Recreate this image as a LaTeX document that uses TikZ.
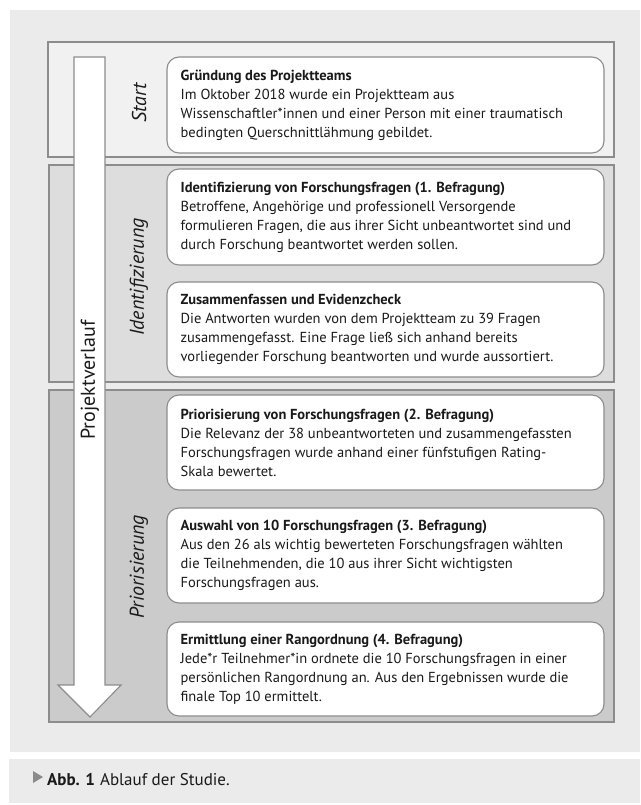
\documentclass[tikz,border=0pt]{standalone}
\usepackage{fontspec}
\setmainfont{PT Sans}
\definecolor{bggray}{HTML}{EBEBEB}
\definecolor{linegray}{HTML}{8C8C8C}
\definecolor{startfill}{HTML}{F1F1F1}
\definecolor{identfill}{HTML}{DDDDDD}
\definecolor{priofill}{HTML}{CBCBCB}
\definecolor{trigray}{HTML}{8A8A8A}
\definecolor{textcol}{HTML}{1A1A1A}
\begin{document}
\begin{tikzpicture}[x=1pt,y=-1pt,
  panel/.style={draw=linegray,line width=1.1pt},
  stepbox/.style={draw=linegray,line width=1.1pt,fill=white,rounded corners=12pt,minimum width=437pt,inner sep=0pt},
  steptext/.style={anchor=west,align=left,inner sep=0pt,text=textcol,font=\fontsize{14.5}{19}\selectfont},
  stagelabel/.style={rotate=90,inner sep=0pt,text=textcol,font=\fontsize{20}{24}\selectfont\itshape},
  arrowshape/.style={draw=linegray,line width=1.1pt,fill=white},
]
\useasboundingbox (0,0) rectangle (640,805);
\fill[white] (0,0) rectangle (640,805);
\fill[bggray] (10,10) rectangle (640,752);
\fill[bggray] (9,759) rectangle (640,803);

% phase panels
\draw[panel,fill=startfill] (48,42) rectangle (614,157);
\draw[panel,fill=identfill] (49,165) rectangle (614,382);
\draw[panel,fill=priofill] (49,390) rectangle (614,722);

% big arrow
\draw[arrowshape] (74,57) -- (105,57) -- (105,685) -- (121,685) -- (90,717) -- (58,685) -- (74,685) -- cycle;
\node[rotate=90,inner sep=0pt,text=textcol,font=\fontsize{20}{24}\selectfont] (verlauf) at (90,380) {Projektverlauf};

% stage labels
\node[stagelabel] (lstart) at (139,103) {Start};
\node[stagelabel] (lident) at (139,277) {Identifizierung};
\node[stagelabel] (lprio) at (139,567) {Priorisierung};

% boxes
\node[stepbox,minimum height=96pt] (b1) at (385.5,105) {};
\node[stepbox,minimum height=96pt] (b2) at (385.5,217) {};
\node[stepbox,minimum height=95pt] (b3) at (385.5,329.5) {};
\node[stepbox,minimum height=95pt] (b4) at (385.5,442.5) {};
\node[stepbox,minimum height=95pt] (b5) at (385.5,555.5) {};
\node[stepbox,minimum height=94pt] (b6) at (385.5,669) {};

\node[steptext] (t1) at ([xshift=14pt]b1.west) {\textbf{Gründung des Projektteams}\\
Im Oktober 2018 wurde ein Projektteam aus\\
Wissenschaftler*innen und einer Person mit einer traumatisch\\
bedingten Querschnittlähmung gebildet.};
\node[steptext] (t2) at ([xshift=14pt]b2.west) {\textbf{Identifizierung von Forschungsfragen (1. Befragung)}\\
Betroffene, Angehörige und professionell Versorgende\\
formulieren Fragen, die aus ihrer Sicht unbeantwortet sind und\\
durch Forschung beantwortet werden sollen.};
\node[steptext] (t3) at ([xshift=14pt]b3.west) {\textbf{Zusammenfassen und Evidenzcheck}\\
Die Antworten wurden von dem Projektteam zu 39 Fragen\\
zusammengefasst. Eine Frage ließ sich anhand bereits\\
vorliegender Forschung beantworten und wurde aussortiert.};
\node[steptext] (t4) at ([xshift=14pt]b4.west) {\textbf{Priorisierung von Forschungsfragen (2. Befragung)}\\
Die Relevanz der 38 unbeantworteten und zusammengefassten\\
Forschungsfragen wurde anhand einer fünfstufigen Rating-\\
Skala bewertet.};
\node[steptext] (t5) at ([xshift=14pt]b5.west) {\textbf{Auswahl von 10 Forschungsfragen (3. Befragung)}\\
Aus den 26 als wichtig bewerteten Forschungsfragen wählten\\
die Teilnehmenden, die 10 aus ihrer Sicht wichtigsten\\
Forschungsfragen aus.};
\node[steptext] (t6) at ([xshift=14pt]b6.west) {\textbf{Ermittlung einer Rangordnung (4. Befragung)}\\
Jede*r Teilnehmer*in ordnete die 10 Forschungsfragen in einer\\
persönlichen Rangordnung an. Aus den Ergebnissen wurde die\\
finale Top 10 ermittelt.};

% caption
\fill[trigray] (33,771) -- (43,777) -- (33,783) -- cycle;
\node[anchor=base west,inner sep=0pt,text=textcol,font=\fontsize{17}{20}\selectfont] (cap) at (47,785) {\textbf{Abb. 1}\hspace{5pt}Ablauf der Studie.};
\end{tikzpicture}
\end{document}
